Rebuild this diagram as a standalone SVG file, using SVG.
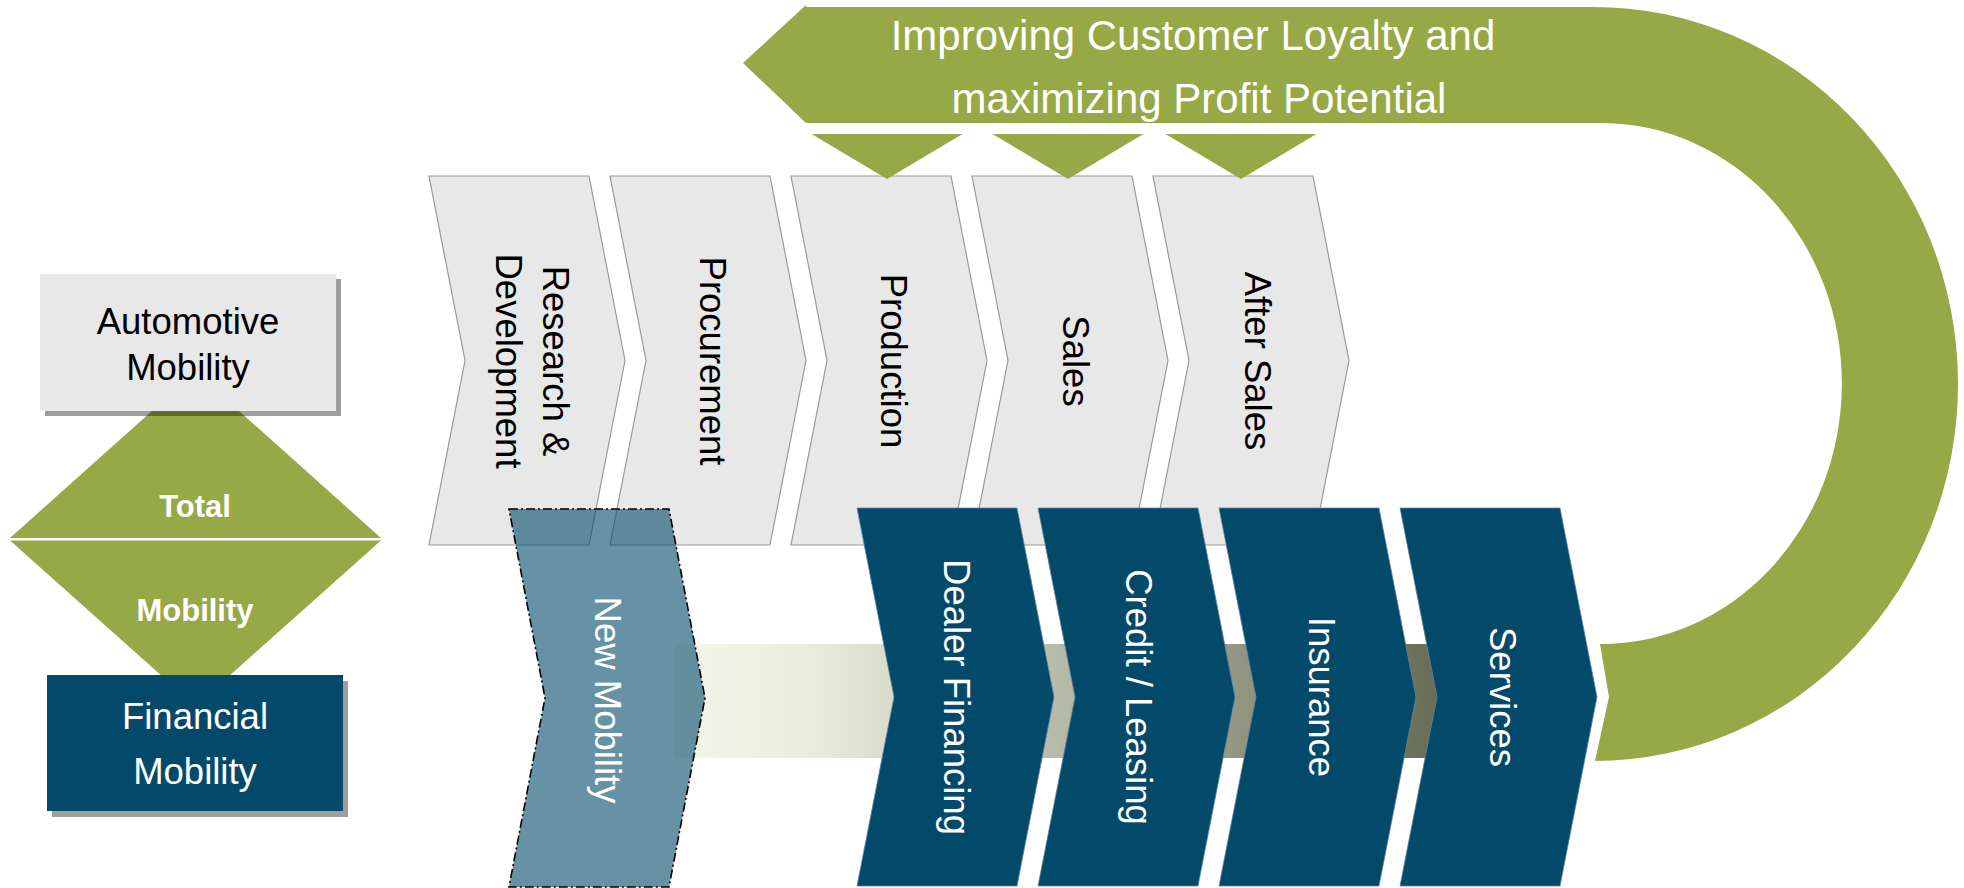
<svg xmlns="http://www.w3.org/2000/svg" width="1964" height="888" viewBox="0 0 1964 888">
<defs>
<style>
.txt{font-family:"Liberation Sans",Arial,sans-serif;font-size:36.5px}
.blk{fill:#000}
.wht{fill:#fff}
.bold{font-weight:bold;font-size:31px}
.big{font-size:42px}
.grey{fill:#e8e8e8;stroke:#9a9a9a;stroke-width:1.2}
.dark{fill:#03496a;stroke:#5f86a0;stroke-width:0.8}
.newm{fill:#02496a;fill-opacity:0.6;stroke:#000;stroke-width:1.6;stroke-dasharray:9 3 2 3}
.green{fill:#97a846}
.shadow{fill:#000;fill-opacity:0.38}
</style>
<linearGradient id="bandGrad" gradientUnits="userSpaceOnUse" x1="675" y1="0" x2="1560" y2="0">
<stop offset="0" stop-color="#f3f5e9"/>
<stop offset="0.15" stop-color="#eaedde"/>
<stop offset="1" stop-color="#4f543c"/>
</linearGradient>
</defs>
<rect width="1964" height="888" fill="#fff"/>

<g id="total-mobility">
<polygon class="green" points="10,538 381,538 195.5,372"/>
<polygon class="green" points="10,540.5 381,540.5 195.5,706"/>
<text class="txt bold wht" x="195" y="517" text-anchor="middle">Total</text>
<text class="txt bold wht" x="195" y="621" text-anchor="middle">Mobility</text>
</g>

<g id="automotive-mobility">
<rect class="shadow" x="45" y="279" width="296" height="137"/>
<rect x="40" y="274" width="296" height="137" fill="#e8e8e8"/>
<text class="txt blk" x="188" y="334" text-anchor="middle">Automotive</text>
<text class="txt blk" x="188" y="380" text-anchor="middle">Mobility</text>
</g>

<g id="financial-mobility">
<rect class="shadow" x="52" y="681" width="296" height="136"/>
<rect x="47" y="675" width="296" height="136" fill="#03496a"/>
<text class="txt wht" x="195" y="729" text-anchor="middle">Financial</text>
<text class="txt wht" x="195" y="784" text-anchor="middle">Mobility</text>
</g>

<g id="research-development">
<path class="grey" d="M429,176 L589,176 L625,360.5 L589,545 L429,545 L465,360.5 Z"/>
<text class="txt blk" transform="translate(556,361) rotate(90)" y="13" text-anchor="middle">Research &amp;</text>
<text class="txt blk" transform="translate(509,361) rotate(90)" y="13" text-anchor="middle">Development</text>
</g>
<g id="procurement">
<path class="grey" d="M610,176 L770,176 L806,360.5 L770,545 L610,545 L646,360.5 Z"/>
<text class="txt blk" transform="translate(713,361) rotate(90)" y="13" text-anchor="middle">Procurement</text>
</g>
<g id="production">
<path class="grey" d="M791,176 L951,176 L987,360.5 L951,545 L791,545 L827,360.5 Z"/>
<text class="txt blk" transform="translate(894,361) rotate(90)" y="13" text-anchor="middle">Production</text>
</g>
<g id="sales">
<path class="grey" d="M972,176 L1132,176 L1168,360.5 L1132,545 L972,545 L1008,360.5 Z"/>
<text class="txt blk" transform="translate(1076,361) rotate(90)" y="13" text-anchor="middle">Sales</text>
</g>
<g id="after-sales">
<path class="grey" d="M1153,176 L1313,176 L1349,360.5 L1313,545 L1153,545 L1189,360.5 Z"/>
<text class="txt blk" transform="translate(1258,361) rotate(90)" y="13" text-anchor="middle">After Sales</text>
</g>

<g id="connectors">
<path id="loyalty-arrow" class="green" d="M743,63 L806,5 L806,7 L1593,7 A364,377 0 0 1 1595,761 L1609,697 L1600,644 A240,260 0 0 0 1603,123 L806,123 Z"/>
<polygon class="green" points="811.5,134 962.5,134 887,179"/>
<polygon class="green" points="992.5,134 1143.5,134 1068,179"/>
<polygon class="green" points="1165.5,134 1316.5,134 1241,179"/>
<rect id="flow-band" x="675" y="644" width="885" height="114" fill="url(#bandGrad)"/>
</g>
<text class="txt big wht" x="1193" y="50" text-anchor="middle">Improving Customer Loyalty and</text>
<text class="txt big wht" x="1199" y="113" text-anchor="middle">maximizing Profit Potential</text>

<g id="new-mobility">
<path class="newm" d="M509,509 L669,509 L705,698 L669,887 L509,887 L545,698 Z"/>
<text class="txt wht" transform="translate(608,700) rotate(90)" y="13" text-anchor="middle">New Mobility</text>
</g>
<g id="dealer-financing">
<path class="dark" d="M857,508 L1017,508 L1054,697 L1017,886 L857,886 L894,697 Z"/>
<text class="txt wht" transform="translate(957,697) rotate(90)" y="13" text-anchor="middle">Dealer Financing</text>
</g>
<g id="credit-leasing">
<path class="dark" d="M1038,508 L1198,508 L1235,697 L1198,886 L1038,886 L1075,697 Z"/>
<text class="txt wht" transform="translate(1139,697) rotate(90)" y="13" text-anchor="middle">Credit / Leasing</text>
</g>
<g id="insurance">
<path class="dark" d="M1219,508 L1379,508 L1416,697 L1379,886 L1219,886 L1256,697 Z"/>
<text class="txt wht" transform="translate(1322,697) rotate(90)" y="13" text-anchor="middle">Insurance</text>
</g>
<g id="services">
<path class="dark" d="M1400,508 L1560,508 L1597,697 L1560,886 L1400,886 L1437,697 Z"/>
<text class="txt wht" transform="translate(1503,697) rotate(90)" y="13" text-anchor="middle">Services</text>
</g>
</svg>
